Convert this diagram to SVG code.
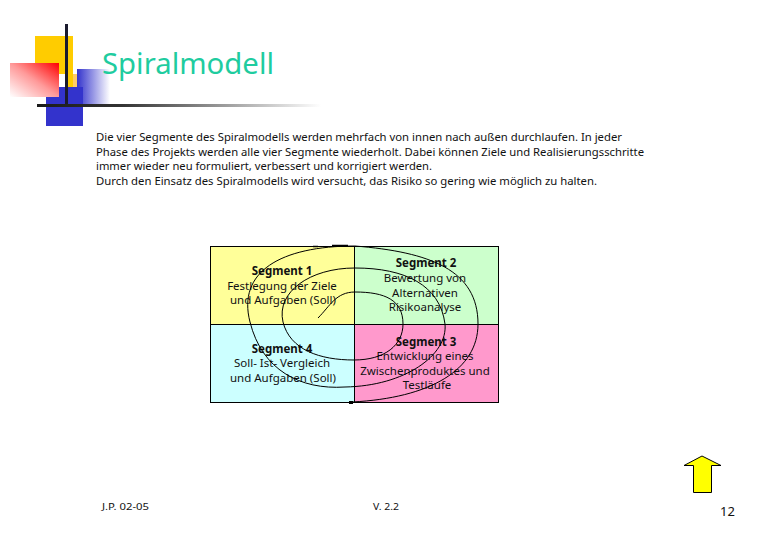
<svg xmlns="http://www.w3.org/2000/svg" width="780" height="540" viewBox="0 0 780 540">
<style>
text{font-family:"Noto Sans","Open Sans","DejaVu Sans",sans-serif;fill:#111}
.b{font-size:11.5px}
.c{font-size:11.5px;text-anchor:middle}
.h{font-size:11.5px;font-weight:700;text-anchor:middle}
.f{font-size:9px}
.cell{stroke:#000;stroke-width:1}
.sp{fill:none;stroke:#000;stroke-width:1}
</style>
<defs>
<linearGradient id="red" x1="1" y1="0" x2="0" y2="1"><stop offset="0" stop-color="#ff0000"/><stop offset="0.5" stop-color="#ff9a9a"/><stop offset="1" stop-color="#ffffff"/></linearGradient>
<linearGradient id="blue" x1="0" y1="0" x2="1" y2="0"><stop offset="0" stop-color="#3333cc"/><stop offset="1" stop-color="#ffffff"/></linearGradient>
<linearGradient id="rule" x1="0" y1="0" x2="1" y2="0"><stop offset="0" stop-color="#1a1a1a"/><stop offset="0.3" stop-color="#333"/><stop offset="1" stop-color="#ffffff"/></linearGradient>
</defs>
<rect width="780" height="540" fill="#fff"/>
<g id="logo">
<rect x="35" y="36" width="38" height="51" fill="#ffcc00"/>
<rect x="73" y="74" width="4" height="13" fill="#ffcc66"/>
<rect x="59" y="74" width="6" height="13" fill="#fff"/>
<rect x="77" y="69" width="33" height="35" fill="url(#blue)"/>
<rect x="46" y="87" width="37" height="39" fill="#3333cc"/>
<rect x="10" y="63" width="49" height="34" fill="url(#red)"/>
<rect x="65" y="24" width="3" height="83" fill="#1a1a2e"/>
<rect x="37" y="104" width="284" height="3" fill="url(#rule)"/>
</g>
<text id="title" x="102" y="74" font-size="29" style="fill:#1fcc9f" textLength="172" lengthAdjust="spacingAndGlyphs">Spiralmodell</text>
<g id="body">
<text class="b" x="96" y="140.500" textLength="526" lengthAdjust="spacingAndGlyphs">Die vier Segmente des Spiralmodells werden mehrfach von innen nach außen durchlaufen. In jeder</text>
<text class="b" x="96" y="155.500" textLength="548" lengthAdjust="spacingAndGlyphs">Phase des Projekts werden alle vier Segmente wiederholt. Dabei können Ziele und Realisierungsschritte</text>
<text class="b" x="96" y="169.500" textLength="336" lengthAdjust="spacingAndGlyphs">immer wieder neu formuliert, verbessert und korrigiert werden.</text>
<text class="b" x="96" y="184.500" textLength="501" lengthAdjust="spacingAndGlyphs">Durch den Einsatz des Spiralmodells wird versucht, das Risiko so gering wie möglich zu halten.</text>
</g>
<g id="segment1"><rect class="cell" x="210.500" y="246.500" width="144" height="78" fill="#ffff99"/>
<text class="h" x="282" y="275">Segment 1</text><text class="c" x="282" y="290">Festlegung der Ziele</text><text class="c" x="283" y="304">und Aufgaben (Soll)</text></g>
<g id="segment2"><rect class="cell" x="354.500" y="246.500" width="144" height="78" fill="#ccffcc"/>
<text class="h" x="426" y="267">Segment 2</text><text class="c" x="425" y="282">Bewertung von</text><text class="c" x="425" y="297">Alternativen</text><text class="c" x="425" y="311">Risikoanalyse</text></g>
<g id="segment4"><rect class="cell" x="210.500" y="324.500" width="144" height="78" fill="#ccffff"/>
<text class="h" x="282" y="353">Segment 4</text><text class="c" x="282" y="367">Soll- Ist- Vergleich</text><text class="c" x="283" y="382">und Aufgaben (Soll)</text></g>
<g id="segment3"><rect class="cell" x="354.500" y="324.500" width="144" height="78" fill="#ff99cc"/>
<text class="h" x="426" y="346">Segment 3</text><text class="c" x="425" y="360">Entwicklung eines</text><text class="c" x="425" y="375">Zwischenproduktes und</text><text class="c" x="427" y="389">Testläufe</text></g>
<g id="connectors">
<path class="sp" d="M318 318C330 306 336 292 355 292C385 292 403 300 403 324C403 345 385 360 354 360C320 360 290 350 283 322C276 292 310 268 355 268C405 268 440 285 445 324C448 355 405 386 345 387C300 390 262 370 250 322C237 272 280 246 355 246C430 252 478 270 478 324C478 370 430 398 352 402"/>
<path d="M313 246.500H318M332 245.500H348" stroke="#000" stroke-width="1.500" fill="none"/>
<rect x="349" y="401" width="4" height="3" fill="#000"/>
</g>
<g id="footer">
<text class="f" x="102" y="510" textLength="47" lengthAdjust="spacingAndGlyphs">J.P. 02-05</text>
<text class="f" x="373" y="510" textLength="26" lengthAdjust="spacingAndGlyphs">V. 2.2</text>
<text x="720" y="516" font-size="13">12</text>
</g>
<g id="home-arrow"><path d="M702 456L721 465.500H711.500V492.500H693.500V465.500H684Z" fill="#ffff00" stroke="#000" stroke-width="1"/></g>
</svg>
